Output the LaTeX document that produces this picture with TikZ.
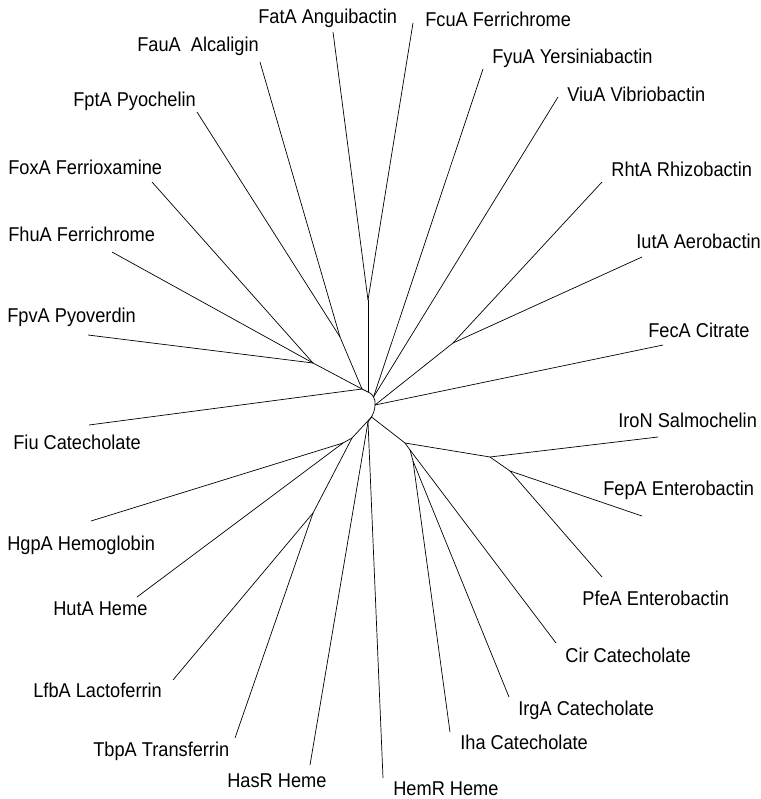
\documentclass[tikz,border=0pt]{standalone}
\usepackage{fontspec}
\setmainfont{Liberation Sans}[FakeStretch=0.91]

\begin{document}
\begin{tikzpicture}[x=1pt,y=-1pt,line width=0.7pt,
    taxon/.style={anchor=base west, inner sep=0pt, font=\fontsize{20}{23}\selectfont}]
  \useasboundingbox (0,0) rectangle (760,799);
  % inner nodes
  \coordinate (n_{top}) at (368,392);
  \coordinate (n_{fat}) at (368,300);
  \coordinate (n_{left}) at (362,389);
  \coordinate (n_{fau}) at (340,337);
  \coordinate (n_{fox}) at (313,363);
  \coordinate (n_{fyu}) at (373.5,397);
  \coordinate (n_{fec}) at (375,405);
  \coordinate (n_{rht}) at (453,343);
  \coordinate (n_{bot}) at (371.5,417);
  \coordinate (n_{has}) at (368,422);
  \coordinate (n_{hg}) at (352,438);
  \coordinate (n_{hgp}) at (343,443);
  \coordinate (n_{lfb}) at (313,513);
  \coordinate (n_{ir}) at (405,443);
  \coordinate (n_{ent}) at (490,457);
  \coordinate (n_{fep}) at (510,471);
  \coordinate (n_{cir}) at (410,450);
  \coordinate (n_{iha}) at (413,461);
  % leaves
  \coordinate (l_{fatA}) at (333,32);
  \coordinate (l_{fcuA}) at (413,23);
  \coordinate (l_{fauA}) at (260,62);
  \coordinate (l_{fptA}) at (197,112);
  \coordinate (l_{foxA}) at (152,182);
  \coordinate (l_{fhuA}) at (112,252);
  \coordinate (l_{fpvA}) at (88,335);
  \coordinate (l_{fiu}) at (89,425);
  \coordinate (l_{fyuA}) at (483,69);
  \coordinate (l_{viuA}) at (558,97);
  \coordinate (l_{rhtA}) at (602,182);
  \coordinate (l_{iutA}) at (642,257);
  \coordinate (l_{fecA}) at (663,345);
  \coordinate (l_{iroN}) at (658,437);
  \coordinate (l_{fepA}) at (642,516);
  \coordinate (l_{pfeA}) at (602,577);
  \coordinate (l_{cir}) at (556,643);
  \coordinate (l_{irgA}) at (509,697);
  \coordinate (l_{iha}) at (450,732);
  \coordinate (l_{hemR}) at (383,778);
  \coordinate (l_{hasR}) at (310,765);
  \coordinate (l_{tbpA}) at (235,738);
  \coordinate (l_{lfbA}) at (173,680);
  \coordinate (l_{hutA}) at (137,597);
  \coordinate (l_{hgpA}) at (91,521);
  % labels
  \node [taxon] (t_{fatA}) at (258,24) {FatA Anguibactin};
  \node [taxon] (t_{fcuA}) at (425,27) {FcuA Ferrichrome};
  \node [taxon] (t_{fauA}) at (137,52) {FauA~~Alcaligin};
  \node [taxon] (t_{fyuA}) at (492,64) {FyuA Yersiniabactin};
  \node [taxon] (t_{viuA}) at (567,102) {ViuA Vibriobactin};
  \node [taxon] (t_{fptA}) at (73,107) {FptA Pyochelin};
  \node [taxon] (t_{foxA}) at (8,175) {FoxA Ferrioxamine};
  \node [taxon] (t_{rhtA}) at (611,177) {RhtA Rhizobactin};
  \node [taxon] (t_{fhuA}) at (8,242) {FhuA Ferrichrome};
  \node [taxon] (t_{iutA}) at (636,248) {IutA Aerobactin};
  \node [taxon] (t_{fpvA}) at (7,322) {FpvA Pyoverdin};
  \node [taxon] (t_{fecA}) at (648,337) {FecA Citrate};
  \node [taxon] (t_{iroN}) at (618,427) {IroN Salmochelin};
  \node [taxon] (t_{fiu}) at (13,449) {Fiu Catecholate};
  \node [taxon] (t_{fepA}) at (603,495) {FepA Enterobactin};
  \node [taxon] (t_{hgpA}) at (7,550) {HgpA Hemoglobin};
  \node [taxon] (t_{pfeA}) at (582,605) {PfeA Enterobactin};
  \node [taxon] (t_{hutA}) at (53,615) {HutA Heme};
  \node [taxon] (t_{cir}) at (565,662) {Cir Catecholate};
  \node [taxon] (t_{lfbA}) at (33,697) {LfbA Lactoferrin};
  \node [taxon] (t_{irgA}) at (518,715) {IrgA Catecholate};
  \node [taxon] (t_{iha}) at (460,749) {Iha Catecholate};
  \node [taxon] (t_{tbpA}) at (93,756) {TbpA Transferrin};
  \node [taxon] (t_{hasR}) at (227,787) {HasR Heme};
  \node [taxon] (t_{hemR}) at (393,795) {HemR Heme};
  % central curve
  \draw (n_{top}) .. controls (372,393) and (376,399) .. (n_{fec})
    .. controls (375,410) and (373,414) .. (n_{bot});
  % branches
  \path
    (n_{top}) edge (n_{fat})
    (n_{fat}) edge (l_{fatA})
    (n_{fat}) edge (l_{fcuA})
    (n_{top}) edge (n_{left})
    (n_{left}) edge (n_{fau})
    (n_{fau}) edge (l_{fauA})
    (n_{fau}) edge (l_{fptA})
    (n_{left}) edge (n_{fox})
    (n_{fox}) edge (l_{foxA})
    (n_{fox}) edge (l_{fhuA})
    (n_{fox}) edge (l_{fpvA})
    (n_{left}) edge (l_{fiu})
    (n_{fyu}) edge (l_{fyuA})
    (n_{fyu}) edge (l_{viuA})
    (n_{fec}) edge (l_{fecA})
    (n_{fec}) edge (n_{rht})
    (n_{rht}) edge (l_{rhtA})
    (n_{rht}) edge (l_{iutA})
    (n_{bot}) edge (n_{has})
    (n_{has}) edge (l_{hasR})
    (n_{has}) edge (l_{hemR})
    (n_{bot}) edge (n_{hg})
    (n_{hg}) edge (n_{hgp})
    (n_{hgp}) edge (l_{hgpA})
    (n_{hgp}) edge (l_{hutA})
    (n_{hg}) edge (n_{lfb})
    (n_{lfb}) edge (l_{lfbA})
    (n_{lfb}) edge (l_{tbpA})
    (n_{bot}) edge (n_{ir})
    (n_{ir}) edge (n_{ent})
    (n_{ent}) edge (l_{iroN})
    (n_{ent}) edge (n_{fep})
    (n_{fep}) edge (l_{fepA})
    (n_{fep}) edge (l_{pfeA})
    (n_{ir}) edge (n_{cir})
    (n_{cir}) edge (l_{cir})
    (n_{cir}) edge (n_{iha})
    (n_{iha}) edge (l_{iha})
    (n_{iha}) edge (l_{irgA});
\end{tikzpicture}
\end{document}
